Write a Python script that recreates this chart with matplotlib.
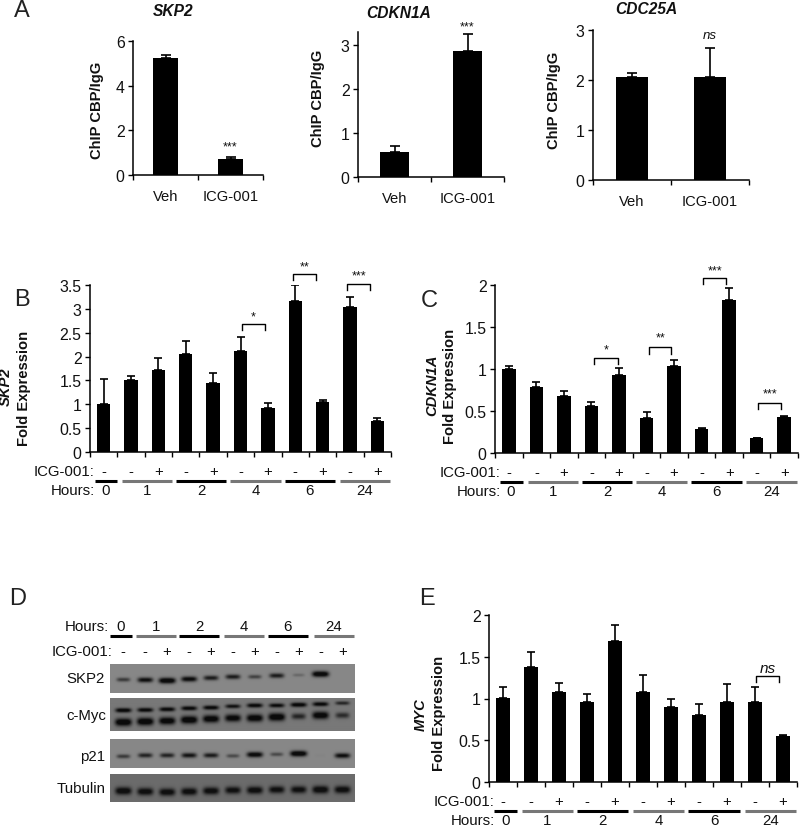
import numpy as np
import matplotlib
matplotlib.use('Agg')
import matplotlib.pyplot as plt

plt.rcParams['font.family'] = ['Liberation Sans', 'DejaVu Sans']

W, H = 800, 828
FS = 10.8

# panel A
chip_groups = ['Veh', 'ICG-001']
skp2_chip = [5.25, 0.72]
skp2_chip_err = [0.15, 0.08]
cdkn1a_chip = [0.57, 2.87]
cdkn1a_chip_err = [0.13, 0.38]
cdc25a_chip = [2.07, 2.07]
cdc25a_chip_err = [0.08, 0.57]

# panels B, C, E
icg_signs = ['-', '-', '+', '-', '+', '-', '+', '-', '+', '-', '+']
hours = ['0', '1', '2', '4', '6', '24']
skp2_expr = [1.0, 1.5, 1.72, 2.05, 1.45, 2.12, 0.93, 3.16, 1.04, 3.03, 0.65]
skp2_top = [1.53, 1.6, 1.97, 2.33, 1.66, 2.42, 1.03, 3.5, 1.08, 3.25, 0.71]
cdkn1a_expr = [1.0, 0.79, 0.68, 0.56, 0.93, 0.42, 1.04, 0.29, 1.82, 0.18, 0.43]
cdkn1a_top = [1.04, 0.84, 0.74, 0.61, 1.01, 0.49, 1.11, 0.30, 1.97, 0.18, 0.44]
myc_expr = [1.01, 1.38, 1.08, 0.96, 1.69, 1.08, 0.9, 0.8, 0.96, 0.96, 0.55]
myc_top = [1.14, 1.56, 1.19, 1.05, 1.88, 1.28, 0.99, 0.94, 1.17, 1.14, 0.56]

# panel D, band strength per lane and height in the strip (0 = top)
skp2_band = [0.5, 0.8, 1.0, 0.85, 0.7, 0.7, 0.45, 0.7, 0.2, 1.0, 0.0]
skp2_band_y = [0.54, 0.55, 0.575, 0.52, 0.48, 0.44, 0.44, 0.40, 0.38, 0.345, 0.34]
myc_upper = [0.9, 0.85, 0.85, 0.85, 0.85, 0.75, 0.85, 0.8, 0.9, 0.85, 0.6]
myc_upper_y = [0.39, 0.38, 0.36, 0.33, 0.31, 0.27, 0.245, 0.245, 0.225, 0.205, 0.175]
myc_lower = [1.0, 1.0, 0.95, 1.0, 0.95, 0.9, 0.95, 1.0, 0.6, 0.95, 0.55]
myc_lower_y = [0.745, 0.725, 0.705, 0.675, 0.645, 0.62, 0.62, 0.59, 0.57, 0.54, 0.54]
p21_band = [0.5, 0.65, 0.65, 0.75, 0.7, 0.4, 0.9, 0.4, 1.0, 0.02, 0.8]
p21_band_y = [0.6, 0.565, 0.565, 0.565, 0.565, 0.585, 0.54, 0.53, 0.505, 0.575, 0.575]
tub_band = [0.95, 0.9, 0.9, 0.9, 0.9, 0.85, 0.9, 0.85, 0.85, 0.95, 0.9]
tub_band_y = [0.605, 0.63, 0.65, 0.63, 0.605, 0.58, 0.58, 0.56, 0.56, 0.56, 0.56]

GRAY = '#777777'
group_spans = [(-0.33, 0.5), (0.68, 2.5), (2.65, 4.48), (4.63, 6.47), (6.62, 8.45), (8.63, 10.47)]
blot_spans = [(-0.59, 0.41), (0.59, 2.41), (2.55, 4.36), (4.59, 6.41), (6.59, 8.41), (8.68, 10.5)]

fig = plt.figure(figsize=(8, 8.28), dpi=100)


def px_axes(x0, y_top, x1, y_bot):
    return fig.add_axes([x0 / W, 1 - y_bot / H, (x1 - x0) / W, (y_bot - y_top) / H])


def px_text(x, y, s, **kw):
    kw.setdefault('ha', 'center')
    kw.setdefault('va', 'center')
    kw.setdefault('fontsize', FS)
    kw.setdefault('color', '#111111')
    fig.text(x / W, 1 - y / H, s, **kw)


def set_ax(ax):
    ax.spines['top'].set_visible(False)
    ax.spines['right'].set_visible(False)
    ax.spines['left'].set_linewidth(1.1)
    ax.spines['bottom'].set_linewidth(1.1)
    ax.tick_params(axis='both', which='major', length=3.6, width=1, labelsize=11.4, pad=2.5, labelcolor='#111111')


def chip_panel(box, vals, err, ymax, yticks, bar_w):
    ax = px_axes(*box)
    x = np.arange(len(vals))
    ax.bar(x, vals, width=bar_w, color='k')
    ax.errorbar(x, vals, yerr=[[0, 0], err], fmt='none', ecolor='k', elinewidth=1.2, capsize=3.4, capthick=1.2)
    ax.set_xlim(-0.5, 1.5)
    ax.set_ylim(0, ymax)
    ax.set_yticks(yticks)
    ax.set_xticks([-0.5, 0.5, 1.5])
    ax.set_xticklabels([])
    ax.set_xticks(x, minor=True)
    ax.set_xticklabels(chip_groups, minor=True, fontsize=10.6, color='#111111')
    ax.tick_params(axis='x', which='minor', length=0, pad=10)
    set_ax(ax)
    return ax


def expr_panel(box, vals, tops, ymax, yticks, ylabels):
    ax = px_axes(*box)
    x = np.arange(len(vals))
    vals = np.array(vals)
    ax.bar(x, vals, width=0.49, color='k')
    ax.errorbar(x, vals, yerr=[np.zeros(len(vals)), np.array(tops) - vals], fmt='none',
                ecolor='k', elinewidth=1.2, capsize=2.9, capthick=1.2)
    ax.set_xlim(-0.5, 10.5)
    ax.set_ylim(0, ymax)
    ax.set_yticks(yticks)
    ax.set_yticklabels(ylabels)
    ax.set_xticks(np.arange(-0.5, 11))
    ax.set_xticklabels([])
    set_ax(ax)

    # rows under the axis, offsets in pixels
    height = box[3] - box[1]
    tr = ax.get_xaxis_transform()
    for i, s in enumerate(icg_signs):
        ax.text(i, -19 / height, s, transform=tr, ha='center', va='center', fontsize=FS, color='#111111', clip_on=False)
    for k, (a, b) in enumerate(group_spans):
        col = 'k' if k % 2 == 0 else GRAY
        ax.plot([a, b], [-28.5 / height] * 2, transform=tr, color=col, lw=2.2, clip_on=False, solid_capstyle='butt')
        ax.text((a + b) / 2, -38.5 / height, hours[k], transform=tr, ha='center', va='center',
                fontsize=FS, color='#111111', clip_on=False)
    ax.text(5 / 27.5 - 0.5, -19 / height, 'ICG-001:', transform=tr, ha='right', va='center', fontsize=FS,
            color='#111111', clip_on=False)
    ax.text(5.5 / 27.5 - 0.5, -38.5 / height, 'Hours:', transform=tr, ha='right', va='center', fontsize=FS,
            color='#111111', clip_on=False)
    return ax


def bracket(ax, i, j, top, leg, label, italic=False, size=9):
    ax.plot([i, i, j, j], [top - leg, top, top, top - leg], color='k', lw=1, clip_on=False)
    ax.text((i + j) / 2, top + leg * 1.4, label, ha='center', va='center', fontsize=size, clip_on=False,
            style='italic' if italic else 'normal', color='#111111')


# ---------panel A----------------
ax1 = chip_panel((133, 42.3, 263, 176), skp2_chip, skp2_chip_err, 6, [0, 2, 4, 6], 0.385)
ax2 = chip_panel((358, 32.7, 504, 177.7), cdkn1a_chip, cdkn1a_chip_err, 3.3, [0, 1, 2, 3], 0.41)
ax3 = chip_panel((592.7, 31, 749, 181), cdc25a_chip, cdc25a_chip_err, 3, [0, 1, 2, 3], 0.41)
ax1.text(1, 1.3, '***', ha='center', va='center', fontsize=9, color='#111111')
ax2.text(1, 3.43, '***', ha='center', va='center', fontsize=9, clip_on=False, color='#111111')
ax3.text(1, 2.9, 'ns', ha='center', va='center', fontsize=9.5, style='italic', color='#111111')

px_text(173, 12, 'SKP2', fontsize=11.2, weight='bold', style='italic')
px_text(399, 14, 'CDKN1A', fontsize=11.2, weight='bold', style='italic')
px_text(646, 9, 'CDC25A', fontsize=11.2, weight='bold', style='italic')
px_text(97, 110, 'ChIP CBP/IgG', fontsize=10.6, weight='bold', rotation=90)
px_text(318, 98, 'ChIP CBP/IgG', fontsize=10.6, weight='bold', rotation=90)
px_text(554, 100, 'ChIP CBP/IgG', fontsize=10.6, weight='bold', rotation=90)

# ---------panels B, C, E----------------
axb = expr_panel((90, 286, 391, 453), skp2_expr, skp2_top, 3.5,
                 [0, 0.5, 1, 1.5, 2, 2.5, 3, 3.5], ['0', '0.5', '1', '1.5', '2', '2.5', '3', '3.5'])
bracket(axb, 5.04, 5.88, 2.68, 0.12, '*')
bracket(axb, 6.93, 7.77, 3.73, 0.12, '**')
bracket(axb, 8.9, 9.74, 3.52, 0.13, '***')

axc = expr_panel((495, 286, 798, 454), cdkn1a_expr, cdkn1a_top, 2,
                 [0, 0.5, 1, 1.5, 2], ['0', '0.5', '1', '1.5', '2'])
bracket(axc, 3.1, 3.95, 1.13, 0.07, '*')
bracket(axc, 5.1, 5.9, 1.26, 0.08, '**')
bracket(axc, 7.05, 7.9, 2.08, 0.07, '***')
bracket(axc, 9.05, 9.9, 0.6, 0.08, '***')

axe = expr_panel((489, 616, 797, 783), myc_expr, myc_top, 2,
                 [0, 0.5, 1, 1.5, 2], ['0', '0.5', '1', '1.5', '2'])
bracket(axe, 9.03, 9.87, 1.27, 0.07, 'ns', italic=True, size=11)

px_text(6, 387, 'SKP2', fontsize=10.6, weight='bold', style='italic', rotation=90)
px_text(24, 388, 'Fold Expression', fontsize=10.6, weight='bold', rotation=90)
px_text(432, 385, 'CDKN1A', fontsize=10.6, weight='bold', style='italic', rotation=90)
px_text(450, 386, 'Fold Expression', fontsize=10.6, weight='bold', rotation=90)
px_text(421, 715, 'MYC', fontsize=10.6, weight='bold', style='italic', rotation=90)
px_text(439, 713, 'Fold Expression', fontsize=10.6, weight='bold', rotation=90)

# ---------panel D----------------
hdr = px_axes(110, 618, 355, 662)
hdr.set_xlim(-0.59, 10.55)
hdr.set_ylim(662, 618)
hdr.axis('off')
for k, (a, b) in enumerate(blot_spans):
    hdr.plot([a, b], [637, 637], color='k' if k % 2 == 0 else GRAY, lw=2.2, solid_capstyle='butt')
    hdr.text((a + b) / 2, 627, hours[k], ha='center', va='center', fontsize=FS, color='#111111')
for i, s in enumerate(icg_signs):
    hdr.text(i, 652, s, ha='center', va='center', fontsize=FS, color='#111111')
px_text(109, 627, 'Hours:', ha='right')
px_text(112, 652, 'ICG-001:', ha='right')


def blot(box, bg, dark, bands):
    ax = px_axes(*box)
    xx, yy = np.meshgrid(np.linspace(-0.59, 10.55, 245), np.linspace(0, 1, int(box[3] - box[1]) * 2))
    ink = np.zeros_like(xx)
    for strength, ys, thick in bands:
        for lane, (s, yc) in enumerate(zip(strength, ys)):
            sx = 0.2 + 0.12 * s
            sy = thick * (0.45 + 0.55 * s)
            ink += s * np.exp(-((xx - lane) / sx) ** 4 / 2 - ((yy - yc) / sy) ** 2 / 2)
    img = bg - (bg - dark) * np.clip(ink * 1.3, 0, 1)
    ax.imshow(img, cmap='gray', vmin=0, vmax=1, aspect='auto', extent=(-0.59, 10.55, 1, 0), interpolation='bilinear')
    ax.axis('off')


blot((110, 665, 355, 694), 0.53, 0.05, [(skp2_band, skp2_band_y, 0.07)])
blot((110, 699, 355, 732), 0.47, 0.04, [(myc_upper, myc_upper_y, 0.05), (myc_lower, myc_lower_y, 0.08)])
blot((110, 740, 355, 769), 0.53, 0.05, [(p21_band, p21_band_y, 0.07)])
blot((110, 775, 355, 803), 0.42, 0.06, [(tub_band, tub_band_y, 0.1)])

px_text(105, 679, 'SKP2', ha='right')
px_text(106, 716, 'c-Myc', ha='right')
px_text(105, 757, 'p21', ha='right')
px_text(106, 789, 'Tubulin', ha='right')

# panel letters
for s, x, y in [('A', 22, 11), ('B', 22, 300), ('C', 429, 301), ('D', 18, 599), ('E', 427, 599)]:
    px_text(x, y, s, fontsize=17, color='#222222')

plt.savefig('out.png', dpi=100)
